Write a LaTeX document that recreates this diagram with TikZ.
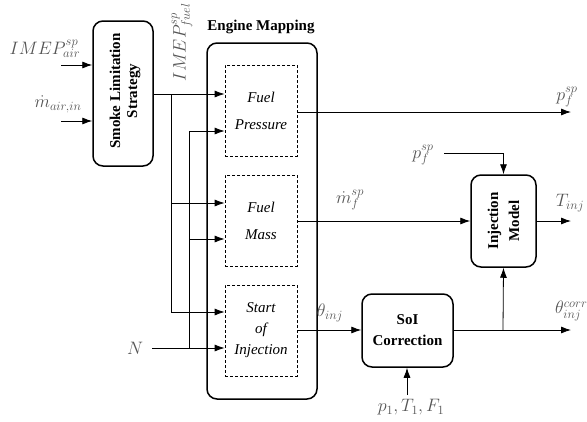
\RequirePackage{fix-cm}
\documentclass[tikz,border=0pt]{standalone}
\usepackage[no-math]{fontspec}
\setmainfont{Liberation Serif}
\usetikzlibrary{arrows.meta}
\definecolor{labelgray}{RGB}{85,85,85}
\tikzset{
  x=1pt, y=-1pt,
  thinline/.style={line width=0.8pt, black},
  arr/.style={thinline, -{Latex[length=10pt,width=7pt]}},
  blockbox/.style={draw, line width=1.5pt, rounded corners=10pt, inner sep=0pt},
  subbox/.style={draw, dashed, line width=0.8pt, dash pattern=on 3pt off 2pt, inner sep=0pt,
    minimum width=72pt, minimum height=91pt, align=center},
  lbl/.style={text=labelgray, inner sep=0pt, font=\fontsize{18}{21}\selectfont},
  btxt/.style={font=\bfseries\fontsize{15}{21}\selectfont, align=center},
}
\begin{document}
\begin{tikzpicture}
\useasboundingbox (0,0) rectangle (587,421);
% blocks
\node[blockbox, minimum width=60pt, minimum height=145pt] (smoke) at (123,93.5) {};
\node[rotate=90, font=\bfseries\fontsize{15}{17}\selectfont, align=center] at (125,91) {Smoke Limitation\\Strategy};
\node[blockbox, minimum width=110pt, minimum height=356pt] (em) at (262,221) {};
\node[font=\bfseries\fontsize{15}{18}\selectfont] (emt) at (261,27) {Engine Mapping};
\node[subbox, font=\itshape\fontsize{15}{27}\selectfont] (fp) at (261,110.5) {Fuel\\Pressure};
\node[subbox, font=\itshape\fontsize{15}{27}\selectfont] (fm) at (261,220.5) {Fuel\\Mass};
\node[subbox, font=\itshape\fontsize{15}{21}\selectfont] (soi) at (261,330.5) {Start\\of\\Injection};
\node[blockbox, minimum width=65pt, minimum height=92pt] (inj) at (503.5,221) {};
\node[rotate=90, btxt] at (inj.center) {Injection\\Model};
\node[blockbox, minimum width=91pt, minimum height=73pt, btxt] (soic) at (407.5,330.5) {SoI\\Correction};
% labels
\node[lbl] (limep) at (45,49) {$IMEP_{air}^{sp}$};
\node[lbl] (lmair) at (58,104) {$\dot{m}_{air,in}$};
\node[lbl, rotate=90] (limepf) at (182,42) {$IMEP_{fuel}^{sp}$};
\node[lbl] (lN) at (135,348) {$N$};
\node[lbl] (lpf1) at (567,97) {$p_f^{sp}$};
\node[lbl] (lpf2) at (423,155) {$p_f^{sp}$};
\node[lbl] (lmf) at (350,200) {$\dot{m}_f^{sp}$};
\node[lbl] (lT) at (570,203) {$T_{inj}$};
\node[lbl] (lth) at (330,313) {$\theta_{inj}$};
\node[lbl, anchor=west] (lthc) at (555,311) {$\theta_{inj}^{corr}$};
\node[lbl] (lp1) at (411,407) {$p_1, T_1, F_1$};
% coordinates
\coordinate (a1) at (61,65);
\coordinate (a2) at (61,121);
\coordinate (bx) at (171,94);
\coordinate (nx) at (189,348);
\coordinate (n0) at (152,348);
\coordinate (pfo) at (571,112);
\coordinate (pfs) at (444,153);
\coordinate (tio) at (571,221);
\coordinate (tho) at (571,330);
\coordinate (br) at (503,330);
\coordinate (p1s) at (407,395);
% connectors
\draw[arr] (a1) -- (a1 -| smoke.west);
\draw[arr] (a2) -- (a2 -| smoke.west);
\draw[arr] (smoke.east |- bx) -- (fp.west |- bx);
\draw[thinline] (bx) -- (bx |- 0,312);
\draw[arr] (bx |- 0,203) -- (fm.west |- 0,203);
\draw[arr] (bx |- 0,312) -- (soi.west |- 0,312);
\draw[arr] (n0) -- (soi.west |- n0);
\draw[thinline] (nx) -- (nx |- 0,131);
\draw[arr] (nx |- 0,131) -- (fp.west |- 0,131);
\draw[arr] (nx |- 0,239) -- (fm.west |- 0,239);
\draw[arr] (fp.east |- pfo) -- (pfo);
\draw[arr] (pfs) -| (inj.north);
\draw[arr] (fm.east |- 0,221) -- (inj.west |- 0,221);
\draw[arr] (inj.east |- tio) -- (tio);
\draw[arr] (soi.east |- 0,330) -- (soic.west |- 0,330);
\draw[arr] (soic.east |- tho) -- (tho);
\draw[arr] (br) -- (inj.south);
\draw[arr] (p1s) -- (soic.south -| p1s);
\end{tikzpicture}
\end{document}
